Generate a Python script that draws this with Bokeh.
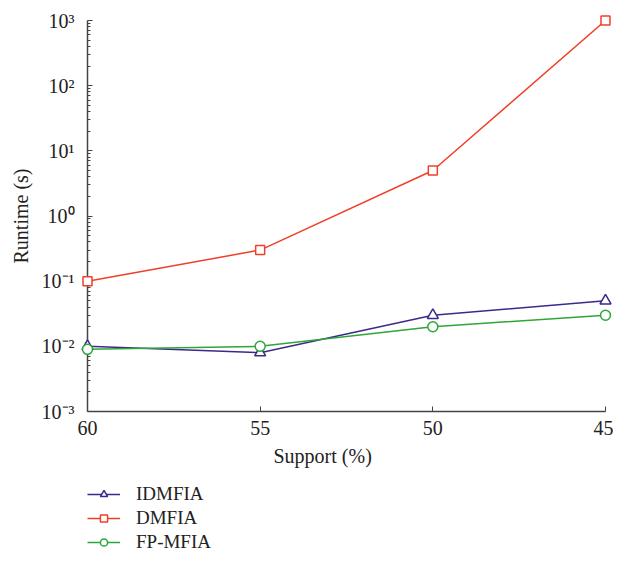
from bokeh.plotting import figure
from bokeh.layouts import column
from bokeh.models import Range1d, FixedTicker, Legend, LegendItem, Title
from bokeh.embed import file_html
from bokeh.resources import INLINE

support = [60, 55, 50, 45]
idmfia = [0.01, 0.008, 0.03, 0.05]
dmfia = [0.1, 0.3, 5, 1000]
fpmfia = [0.009, 0.01, 0.02, 0.03]
series_names = ["IDMFIA", "DMFIA", "FP-MFIA"]
y_ticks = [1e-3, 1e-2, 1e-1, 1e0, 1e1, 1e2, 1e3]
y_tick_labels = ["10⁻³", "10⁻²", "10⁻¹", "10⁰", "10¹", "10²", "10³"]
x_ticks = [60, 55, 50, 45]

FONT = "Liberation Serif"
C_ID = "#3b2a8a"
C_DM = "#f0402a"
C_FP = "#2fa53a"
colors = [C_ID, C_DM, C_FP]
markers = ["triangle", "square", "circle"]
msizes = [11, 9, 10]

W = 613
H_MAIN = 478
H_LEG = 553 - H_MAIN

p = figure(width=W, height=H_MAIN, output_backend="svg", toolbar_location=None,
           y_axis_type="log", x_range=Range1d(60, 45), y_range=Range1d(1e-3, 1e3),
           min_border_left=87, min_border_right=8, min_border_top=20,
           min_border_bottom=H_MAIN - 411)
p.outline_line_color = None
p.grid.visible = False

p.xaxis.ticker = FixedTicker(ticks=x_ticks)
p.yaxis.ticker = FixedTicker(ticks=y_ticks,
    minor_ticks=[m * 10 ** e for e in range(-3, 3) for m in range(2, 10)])
p.yaxis.major_label_overrides = {t: l for t, l in zip(y_ticks, y_tick_labels)}

for ax in [p.xaxis[0], p.yaxis[0]]:
    ax.axis_line_color = "#444444"
    ax.axis_line_width = 1.5
    ax.major_tick_line_color = "#444444"
    ax.minor_tick_line_color = "#444444"
    ax.major_tick_in = 5
    ax.major_tick_out = 0
    ax.minor_tick_in = 3
    ax.minor_tick_out = 0
    ax.major_label_text_font = FONT
    ax.major_label_text_font_size = "20px"
    ax.major_label_text_color = "#222222"
    ax.axis_label_text_font = FONT
    ax.axis_label_text_font_size = "20px"
    ax.axis_label_text_font_style = "normal"
    ax.axis_label_text_color = "#222222"

p.yaxis.axis_label = "Runtime (s)"
p.xaxis.minor_tick_line_color = None
p.xaxis.major_label_standoff = 9
p.yaxis.major_label_standoff = 13
p.yaxis.axis_label_standoff = 7

xlabel = Title(text="Support (%)", align="left", offset=186, standoff=10,
               text_font=FONT, text_font_size="20px", text_font_style="normal",
               text_color="#222222")
p.add_layout(xlabel, "below")

series = [idmfia, dmfia, fpmfia]
for ys, c, mk, ms in zip(series, colors, markers, msizes):
    p.line(support, ys, line_color=c, line_width=1.5)
    p.scatter(support, ys, marker=mk, size=ms, line_color=c, fill_color="white",
              line_width=1.5, level="overlay")

# legend panel below the chart (its renderers lie outside its visible ranges)
q = figure(width=W, height=H_LEG, output_backend="svg", toolbar_location=None,
           x_range=Range1d(0, 1), y_range=Range1d(0, 1),
           min_border=0, x_axis_location=None, y_axis_location=None)
q.outline_line_color = None
q.grid.visible = False
items = []
for name, ys, c, mk, ms in zip(series_names, series, colors, markers, msizes):
    lr = q.line(support, ys, line_color=c, line_width=1.5)
    sr = q.scatter(support, ys, marker=mk, size=ms - 2, line_color=c, fill_color="white", line_width=1.5)
    items.append(LegendItem(label=name, renderers=[lr, sr]))

legend = Legend(items=items, location=(0, 0))
legend.border_line_color = None
legend.background_fill_alpha = 0
legend.label_text_font = FONT
legend.label_text_font_size = "19px"
legend.label_text_color = "#222222"
legend.glyph_width = 33
legend.glyph_height = 18
legend.label_height = 18
legend.label_standoff = 16
legend.spacing = 2
legend.padding = 0
legend.margin = 0
q.add_layout(legend, "center")

open("out.html", "w").write(file_html(column(p, q, spacing=0), INLINE))
